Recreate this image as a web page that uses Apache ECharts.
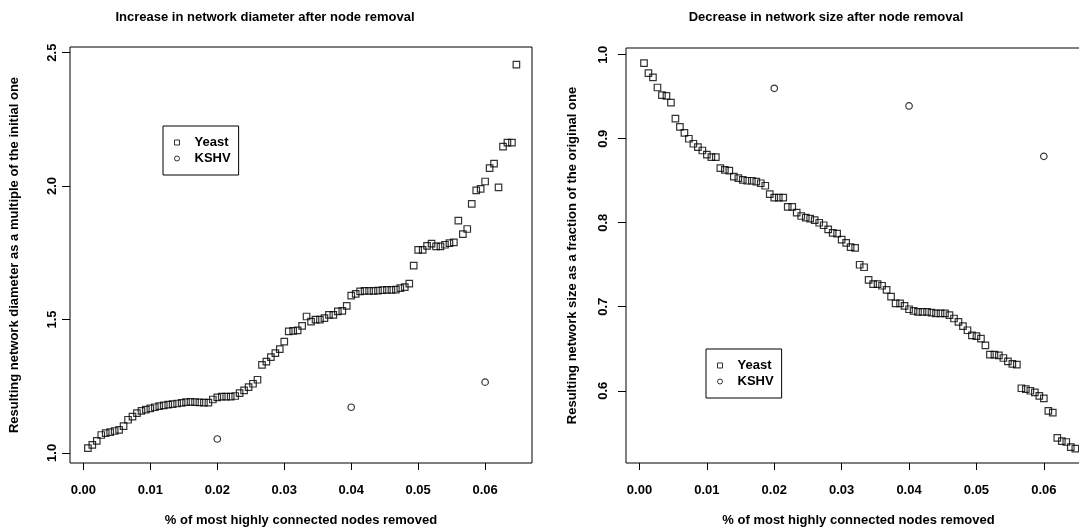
<!DOCTYPE html>
<html>
<head>
<meta charset="utf-8">
<script src="https://cdn.jsdelivr.net/npm/echarts@6/dist/echarts.min.js"></script>
<style>
html,body{margin:0;padding:0;background:#fff;}
#chart{width:1079px;height:532px;}
</style>
</head>
<body>
<div id="chart"></div>
<script>
// ---- data ----
const removedFraction = [
  0.00067,0.00133,0.00200,0.00267,0.00333,0.00400,0.00467,0.00533,0.00600,0.00667,
  0.00733,0.00800,0.00867,0.00933,0.01000,0.01067,0.01133,0.01200,0.01267,0.01333,
  0.01400,0.01467,0.01533,0.01600,0.01667,0.01733,0.01800,0.01867,0.01933,0.02000,
  0.02067,0.02133,0.02200,0.02267,0.02333,0.02400,0.02467,0.02533,0.02600,0.02667,
  0.02733,0.02800,0.02867,0.02933,0.03000,0.03067,0.03133,0.03200,0.03267,0.03333,
  0.03400,0.03467,0.03533,0.03600,0.03667,0.03733,0.03800,0.03867,0.03933,0.04000,
  0.04067,0.04133,0.04200,0.04267,0.04333,0.04400,0.04467,0.04533,0.04600,0.04667,
  0.04733,0.04800,0.04867,0.04933,0.05000,0.05067,0.05133,0.05200,0.05267,0.05333,
  0.05400,0.05467,0.05533,0.05600,0.05667,0.05733,0.05800,0.05867,0.05933,0.06000,
  0.06067,0.06133,0.06200,0.06267,0.06333,0.06400,0.06467
];
const yeastDiameter = [
  1.018,1.030,1.045,1.067,1.074,1.078,1.082,1.086,1.100,1.124,
  1.136,1.149,1.157,1.162,1.167,1.171,1.175,1.178,1.181,1.183,
  1.185,1.187,1.190,1.191,1.190,1.189,1.188,1.188,1.200,1.208,
  1.211,1.211,1.211,1.213,1.224,1.234,1.246,1.259,1.274,1.330,
  1.342,1.359,1.374,1.389,1.417,1.455,1.457,1.459,1.476,1.511,
  1.492,1.499,1.499,1.505,1.517,1.517,1.530,1.532,1.551,1.589,
  1.596,1.605,1.607,1.607,1.607,1.608,1.610,1.611,1.611,1.612,
  1.617,1.621,1.634,1.702,1.761,1.761,1.776,1.784,1.774,1.774,
  1.780,1.786,1.789,1.870,1.820,1.839,1.933,1.984,1.989,2.017,
  2.067,2.084,1.995,2.148,2.163,2.163,2.455
];
const yeastSize = [
  0.990,0.978,0.973,0.961,0.952,0.951,0.943,0.924,0.914,0.907,
  0.900,0.894,0.890,0.886,0.881,0.878,0.878,0.865,0.863,0.862,
  0.855,0.853,0.851,0.850,0.850,0.849,0.847,0.844,0.834,0.830,
  0.830,0.830,0.819,0.819,0.812,0.808,0.806,0.805,0.803,0.800,
  0.797,0.792,0.788,0.787,0.780,0.776,0.771,0.770,0.750,0.747,
  0.732,0.727,0.727,0.725,0.720,0.712,0.704,0.704,0.701,0.697,
  0.695,0.694,0.694,0.694,0.693,0.692,0.692,0.692,0.690,0.686,
  0.682,0.677,0.672,0.666,0.665,0.662,0.654,0.643,0.643,0.642,
  0.639,0.635,0.632,0.631,0.603,0.602,0.600,0.598,0.594,0.591,
  0.576,0.574,0.544,0.540,0.539,0.533,0.531
];
const kshvFraction = [0.02, 0.04, 0.06];
const kshvDiameter = [1.052, 1.171, 1.265];
const kshvSize = [0.960, 0.939, 0.879];

const xTickValues = [0, 0.01, 0.02, 0.03, 0.04, 0.05, 0.06];
const diameterTickValues = [1.0, 1.5, 2.0, 2.5];
const sizeTickValues = [0.6, 0.7, 0.8, 0.9, 1.0];

const seriesNames = ['Yeast', 'KSHV'];
const titles = ['Increase in network diameter after node removal', 'Decrease in network size after node removal'];
const xAxisTitle = '% of most highly connected nodes removed';
const yAxisTitles = ['Resulting network diameter as a multiple of the initial one', 'Resulting network size as a fraction of the original one'];

// ---- chart ----
const FONT = 'Liberation Sans, Arial, Helvetica, sans-serif';
const txt = {color: '#000', fontFamily: FONT, fontWeight: 'bold', fontSize: 13};
const pairs = (xs, ys) => xs.map((x, i) => [x, ys[i]]);

function xAxisFor(gridIndex) {
  return {
    type: 'value', gridIndex, min: -0.002, max: 0.067,
    name: xAxisTitle, nameLocation: 'middle', nameGap: 51,
    nameTextStyle: Object.assign({}, txt),
    axisLine: {show: false, onZero: false},
    axisTick: {show: true, inside: false, length: 7, lineStyle: {color: '#000', width: 1}, customValues: xTickValues},
    axisLabel: Object.assign({margin: 21, customValues: xTickValues, formatter: v => v.toFixed(2)}, txt),
    splitLine: {show: false}
  };
}
function yAxisFor(gridIndex, min, max, ticks, name, margin, nameGap) {
  return {
    type: 'value', gridIndex, min, max,
    name, nameLocation: 'middle', nameGap, nameRotate: 90,
    nameTextStyle: Object.assign({}, txt),
    axisLine: {show: false, onZero: false},
    axisTick: {show: true, inside: false, length: 8, lineStyle: {color: '#000', width: 1}, customValues: ticks},
    axisLabel: Object.assign({margin, rotate: 90, customValues: ticks, formatter: v => v.toFixed(1)}, txt),
    splitLine: {show: false}
  };
}
function legendAt(left, top) {
  return {
    left, top, orient: 'vertical', selectedMode: false,
    data: seriesNames,
    borderColor: '#000', borderWidth: 1, borderRadius: 0,
    padding: [10, 8, 10, 11], itemGap: 3, itemWidth: 5, itemHeight: 5,
    itemStyle: {borderWidth: 1},
    textStyle: Object.assign({padding: [0, 0, 0, 10]}, txt)
  };
}
const squareStyle = {color: 'rgba(0,0,0,0)', borderColor: '#000', borderWidth: 1.2};

const chart = echarts.init(document.getElementById('chart'), null, {renderer: 'canvas'});
chart.setOption({
  animation: false,
  backgroundColor: '#fff',
  graphic: [
    {type: 'text', x: 265, y: 17, style: {text: titles[0], fill: '#000', font: 'bold 13px ' + FONT, textAlign: 'center', textVerticalAlign: 'middle'}},
    {type: 'text', x: 826, y: 17, style: {text: titles[1], fill: '#000', font: 'bold 13px ' + FONT, textAlign: 'center', textVerticalAlign: 'middle'}}
  ],
  legend: [legendAt(163, 126), legendAt(706, 349)],
  grid: [
    {left: 70, top: 47, width: 462, height: 416, show: true, borderColor: '#000', borderWidth: 1, backgroundColor: 'transparent', outerBoundsMode: 'none'},
    {left: 626, top: 48, width: 465, height: 415, show: true, borderColor: '#000', borderWidth: 1, backgroundColor: 'transparent', outerBoundsMode: 'none'}
  ],
  xAxis: [xAxisFor(0), xAxisFor(1)],
  yAxis: [
    yAxisFor(0, 0.962, 2.521, diameterTickValues, yAxisTitles[0], 11, 49),
    yAxisFor(1, 0.514, 1.008, sizeTickValues, yAxisTitles[1], 16, 47)
  ],
  series: [
    {name: seriesNames[0], type: 'scatter', xAxisIndex: 0, yAxisIndex: 0, symbol: 'rect', symbolSize: 6.5, itemStyle: squareStyle, data: pairs(removedFraction, yeastDiameter)},
    {name: seriesNames[1], type: 'scatter', xAxisIndex: 0, yAxisIndex: 0, symbol: 'circle', symbolSize: 6.5, itemStyle: squareStyle, data: pairs(kshvFraction, kshvDiameter)},
    {name: seriesNames[0], type: 'scatter', xAxisIndex: 1, yAxisIndex: 1, symbol: 'rect', symbolSize: 6.5, itemStyle: squareStyle, data: pairs(removedFraction, yeastSize)},
    {name: seriesNames[1], type: 'scatter', xAxisIndex: 1, yAxisIndex: 1, symbol: 'circle', symbolSize: 6.5, itemStyle: squareStyle, data: pairs(kshvFraction, kshvSize)}
  ]
});
</script>
</body>
</html>
